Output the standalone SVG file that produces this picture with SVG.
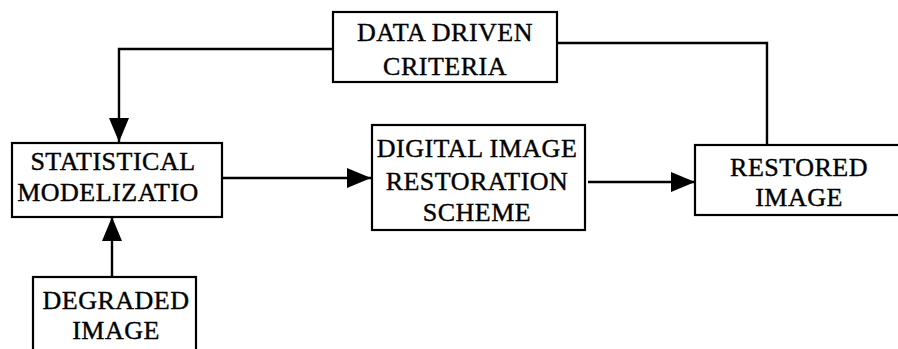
<svg xmlns="http://www.w3.org/2000/svg" width="898" height="349" viewBox="0 0 898 349">
  <style>
    .box { fill: #ffffff; stroke: #000000; stroke-width: 2.2; }
    .lbl { font-family: "Liberation Serif", "Times New Roman", serif; font-size: 26px; letter-spacing: 0.5px; fill: #000000; stroke: #000000; stroke-width: 0.4; text-anchor: middle; }
    .wire { fill: none; stroke: #000000; stroke-width: 2.4; }
  </style>
  <defs>
    <marker id="arrow" markerUnits="userSpaceOnUse" markerWidth="24" markerHeight="20" refX="24" refY="10" orient="auto">
      <path d="M0,0 L24,10 L0,20 Z" fill="#000000"/>
    </marker>
  </defs>
  <rect width="898" height="349" fill="#ffffff"/>

  <g id="connectors">
    <!-- criteria feedback into the statistical model -->
    <polyline class="wire" points="333,49 119,49 119,142" marker-end="url(#arrow)"/>
    <!-- restored image feeds the criteria -->
    <polyline class="wire" points="557,43 767,43 767,145"/>
    <!-- model to restoration scheme -->
    <line class="wire" x1="222" y1="178" x2="371" y2="178" marker-end="url(#arrow)"/>
    <!-- restoration scheme to restored image -->
    <line class="wire" x1="588" y1="182" x2="695" y2="182" marker-end="url(#arrow)"/>
    <!-- degraded image into the model -->
    <line class="wire" x1="112" y1="277" x2="112" y2="217" marker-end="url(#arrow)"/>
  </g>

  <g id="data-driven-criteria">
    <rect class="box" x="333" y="12" width="224" height="70"/>
    <text class="lbl" x="445" y="41">DATA DRIVEN</text>
    <text class="lbl" x="445" y="75">CRITERIA</text>
  </g>

  <g id="statistical-modelization">
    <rect class="box" x="12" y="143" width="210" height="74"/>
    <text class="lbl" x="113" y="170">STATISTICAL</text>
    <text class="lbl" x="108" y="201">MODELIZATIO</text>
  </g>

  <g id="restoration-scheme">
    <rect class="box" x="372" y="125" width="213" height="105"/>
    <text class="lbl" x="477" y="157">DIGITAL IMAGE</text>
    <text class="lbl" x="477" y="190">RESTORATION</text>
    <text class="lbl" x="477" y="221">SCHEME</text>
  </g>

  <g id="restored-image">
    <rect class="box" x="695" y="145" width="210" height="70"/>
    <text class="lbl" x="799" y="176">RESTORED</text>
    <text class="lbl" x="799" y="206">IMAGE</text>
  </g>

  <g id="degraded-image">
    <rect class="box" x="33" y="277" width="163" height="80"/>
    <text class="lbl" x="116" y="309">DEGRADED</text>
    <text class="lbl" x="116" y="339">IMAGE</text>
  </g>
</svg>
